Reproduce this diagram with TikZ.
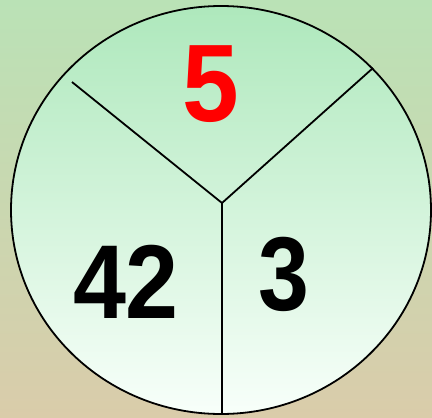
\documentclass[tikz,border=0pt]{standalone}
\usepackage{fontspec}
\usepackage{graphicx}
\setmainfont{Liberation Sans}
\definecolor{bgtop}{RGB}{186,226,182}
\definecolor{bgbot}{RGB}{218,204,170}
\definecolor{cirtop}{RGB}{174,232,188}
\definecolor{cirbot}{RGB}{248,255,250}
\begin{document}
\begin{tikzpicture}[x=1pt,y=-1pt,
  divider/.style={draw=black,line width=1.8pt},
  num/.style={inner sep=0pt,anchor=base,font=\fontsize{105pt}{105pt}\selectfont\bfseries}]
\useasboundingbox (0,0) rectangle (432,418);
\shade[top color=bgtop,bottom color=bgbot] (0,0) rectangle (432,418);
\shade[top color=cirtop,bottom color=cirbot] (221,210) ellipse [x radius=210,y radius=204];
\draw[line width=1.8pt] (221,210) ellipse [x radius=210,y radius=204];
\coordinate (hub) at (222,203);
\coordinate (lend) at (72,82);
\coordinate (rend) at (373,68);
\coordinate (bend) at (222,414);
\draw[divider] (lend) -- (hub) -- (rend);
\draw[divider] (hub) -- (bend);
\node[num,text=red] (five) at (210.5,121) {\scalebox{0.97}[1.05]{5}};
\node[num] (fortytwo) at (126,318) {\scalebox{0.907}[1]{42}};
\node[num] (three) at (283.5,310.5) {\scalebox{0.87}[1]{3}};
\end{tikzpicture}
\end{document}
